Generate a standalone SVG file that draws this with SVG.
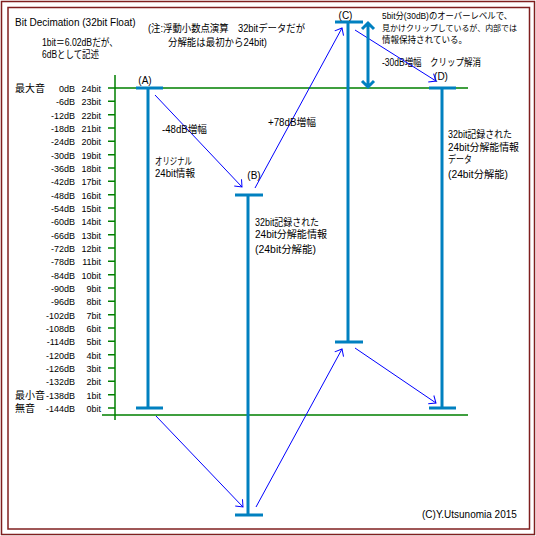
<svg xmlns="http://www.w3.org/2000/svg" width="536" height="536" viewBox="0 0 536 536">
<style>
text{font-family:"Liberation Sans","Noto Sans CJK JP",sans-serif;font-size:10px;fill:#000}
.r{text-anchor:end}
.m{text-anchor:middle}
.s text{font-size:9px;text-anchor:end}
.t9{font-size:9px}
.bar{stroke:#0080c0;stroke-width:3;fill:none}
.g{stroke:#008000;stroke-width:1.5;fill:none}
.ar{stroke:#0000ff;stroke-width:1;fill:none;marker-end:url(#ah)}
.brd{stroke:#7f1f1f;stroke-width:1.5;fill:none}
</style>
<defs>
<marker id="ah" markerUnits="userSpaceOnUse" markerWidth="10" markerHeight="12" viewBox="-8 -6 10 12" refX="0" refY="0" orient="auto">
<path d="M-6,-5 L0,0 L-6,5" fill="none" stroke="#0000ff" stroke-width="1"/>
</marker>
</defs>
<rect x="0" y="0" width="536" height="536" fill="#fff"/>
<rect class="brd" x="1.5" y="1.5" width="533" height="533"/>
<rect class="brd" x="8" y="7.5" width="521.5" height="521.5"/>

<g id="titles">
<text x="15" y="26">Bit Decimation (32bit Float)</text>
<text x="42" y="46" textLength="76" lengthAdjust="spacingAndGlyphs">1bit＝6.02dBだが、</text>
<text x="42" y="57.5" textLength="57" lengthAdjust="spacingAndGlyphs">6dBとして記述</text>
<text x="148" y="32" textLength="157" lengthAdjust="spacingAndGlyphs">(注:浮動小数点演算　32bitデータだが</text>
<text x="168" y="46" textLength="99" lengthAdjust="spacingAndGlyphs">分解能は最初から24bit)</text>
<text x="382" y="19" class="t9" textLength="130" lengthAdjust="spacingAndGlyphs">5bit分(30dB)のオーバーレベルで、</text>
<text x="382" y="30.5" style="font-size:8.5px" textLength="135" lengthAdjust="spacingAndGlyphs">見かけクリップしているが、内部では</text>
<text x="382" y="42.5" class="t9" textLength="85" lengthAdjust="spacingAndGlyphs">情報保持されている。</text>
<text x="382" y="65.5" textLength="99" lengthAdjust="spacingAndGlyphs">-30dB増幅　クリップ解消</text>
<text x="422" y="518">(C)Y.Utsunomia  2015</text>
</g>

<g id="scale">
<path class="g" d="M115,75 V420 M108,88 H468 M102,415 H468"/>
<path class="g" d="M108,101.33h7M108,114.67h7M108,128h7M108,141.33h7M108,154.67h7M108,168h7M108,181.33h7M108,194.67h7M108,208h7M108,221.33h7M108,234.67h7M108,248h7M108,261.33h7M108,274.67h7M108,288h7M108,301.33h7M108,314.67h7M108,328h7M108,341.33h7M108,354.67h7M108,368h7M108,381.33h7M108,394.67h7M108,408h7"/>
<text x="15" y="92">最大音</text>
<text x="15" y="398.7">最小音</text>
<text x="15" y="412">無音</text>
<g class="s">
<text x="75" y="92">0dB</text><text x="101" y="92">24bit</text>
<text x="75" y="105.3">-6dB</text><text x="101" y="105.3">23bit</text>
<text x="75" y="118.7">-12dB</text><text x="101" y="118.7">22bit</text>
<text x="75" y="132">-18dB</text><text x="101" y="132">21bit</text>
<text x="75" y="145.3">-24dB</text><text x="101" y="145.3">20bit</text>
<text x="75" y="158.7">-30dB</text><text x="101" y="158.7">19bit</text>
<text x="75" y="172">-36dB</text><text x="101" y="172">18bit</text>
<text x="75" y="185.3">-42dB</text><text x="101" y="185.3">17bit</text>
<text x="75" y="198.7">-48dB</text><text x="101" y="198.7">16bit</text>
<text x="75" y="212">-54dB</text><text x="101" y="212">15bit</text>
<text x="75" y="225.3">-60dB</text><text x="101" y="225.3">14bit</text>
<text x="75" y="238.7">-66dB</text><text x="101" y="238.7">13bit</text>
<text x="75" y="252">-72dB</text><text x="101" y="252">12bit</text>
<text x="75" y="265.3">-78dB</text><text x="101" y="265.3">11bit</text>
<text x="75" y="278.7">-84dB</text><text x="101" y="278.7">10bit</text>
<text x="75" y="292">-90dB</text><text x="101" y="292">9bit</text>
<text x="75" y="305.3">-96dB</text><text x="101" y="305.3">8bit</text>
<text x="75" y="318.7">-102dB</text><text x="101" y="318.7">7bit</text>
<text x="75" y="332">-108dB</text><text x="101" y="332">6bit</text>
<text x="75" y="345.3">-114dB</text><text x="101" y="345.3">5bit</text>
<text x="75" y="358.7">-120dB</text><text x="101" y="358.7">4bit</text>
<text x="75" y="372">-126dB</text><text x="101" y="372">3bit</text>
<text x="75" y="385.3">-132dB</text><text x="101" y="385.3">2bit</text>
<text x="75" y="398.7">-138dB</text><text x="101" y="398.7">1bit</text>
<text x="75" y="412">-144dB</text><text x="101" y="412">0bit</text>
</g>
</g>

<g id="nodeA">
<path class="bar" d="M148,88 V408 M136,88 H163 M136,408 H163"/>
<text x="145" y="84" class="m">(A)</text>
<text x="155" y="165" textLength="37" lengthAdjust="spacingAndGlyphs">オリジナル</text>
<text x="155" y="177" textLength="40" lengthAdjust="spacingAndGlyphs">24bit情報</text>
</g>

<g id="nodeB">
<path class="bar" d="M248,195 V515 M235,195 H263 M235,515 H263"/>
<text x="254" y="179" class="m">(B)</text>
<text x="255" y="225.5" textLength="64" lengthAdjust="spacingAndGlyphs">32bit記録された</text>
<text x="255" y="237.5" textLength="72" lengthAdjust="spacingAndGlyphs">24bit分解能情報</text>
<text x="255" y="253" textLength="61" lengthAdjust="spacingAndGlyphs">(24bit分解能)</text>
</g>

<g id="nodeC">
<path class="bar" d="M348,22 V342 M335,22 H363 M335,342 H363"/>
<text x="345.5" y="19" class="m">(C)</text>
</g>

<g id="nodeD">
<path class="bar" d="M442,88 V408 M429,88 H456 M429,408 H456"/>
<text x="441" y="80" class="m">(D)</text>
<text x="448" y="138" textLength="64" lengthAdjust="spacingAndGlyphs">32bit記録された</text>
<text x="448" y="150.5" textLength="71" lengthAdjust="spacingAndGlyphs">24bit分解能情報</text>
<text x="448" y="162.5" textLength="24" lengthAdjust="spacingAndGlyphs">データ</text>
<text x="448" y="178" textLength="60" lengthAdjust="spacingAndGlyphs">(24bit分解能)</text>
</g>

<g id="connectors">
<line class="ar" x1="155" y1="95" x2="242" y2="187"/>
<line class="ar" x1="156" y1="416" x2="243" y2="507"/>
<line class="ar" x1="256" y1="507" x2="342" y2="349"/>
<line class="ar" x1="255" y1="188" x2="342" y2="28"/>
<line class="ar" x1="355" y1="30" x2="436" y2="81"/>
<line class="ar" x1="355" y1="348" x2="436" y2="403"/>
<path class="bar" d="M368,23 V87 M362,29 L368,23 L374,29 M362,81 L368,87 L374,81"/>
<text x="162" y="133" textLength="45" lengthAdjust="spacingAndGlyphs">-48dB増幅</text>
<text x="268" y="125.5" textLength="48" lengthAdjust="spacingAndGlyphs">+78dB増幅</text>
</g>
</svg>
